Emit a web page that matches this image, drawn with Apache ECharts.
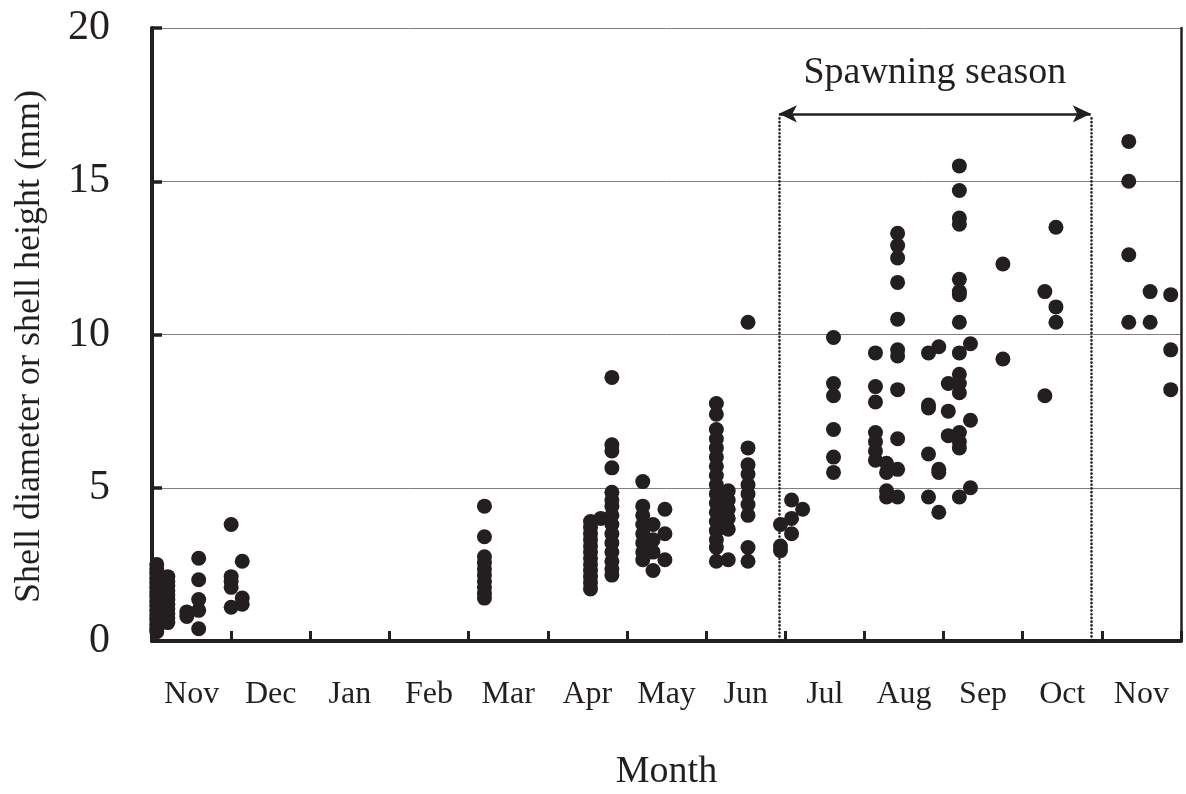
<!DOCTYPE html>
<html>
<head>
<meta charset="utf-8">
<script src="https://cdn.jsdelivr.net/npm/echarts@6/dist/echarts.min.js"></script>
<style>
html,body{margin:0;padding:0;background:#fff;}
#c{width:1186px;height:794px;}
</style>
</head>
<body>
<div id="c"></div>
<script>
// Month labels (each month is one unit on the x scale, starting at Nov = 0..1)
const months = ['Nov','Dec','Jan','Feb','Mar','Apr','May','Jun','Jul','Aug','Sep','Oct','Nov'];
const yTicks = [0, 5, 10, 15, 20];

// Sampling columns: x position (month units) and measured sizes (mm)
const xNov1 = [0.06, 0.2, 0.44, 0.59];
const yNov1 = [
  [2.5, 2.35, 2.2, 2.05, 1.9, 1.75, 1.6, 1.45, 1.3, 1.15, 1.0, 0.85, 0.7, 0.55, 0.4, 0.3],
  [2.1, 1.95, 1.8, 1.65, 1.5, 1.35, 1.2, 1.05, 0.9, 0.75, 0.6],
  [0.95, 0.8],
  [2.7, 2.0, 1.35, 1.0, 0.4]
];
const xDec = [1.0, 1.14];
const yDec = [
  [3.8, 2.1, 1.95, 1.75, 1.1],
  [2.6, 1.4, 1.2]
];
const xMar = [4.2];
const yMar = [
  [4.4, 3.4, 2.75, 2.55, 2.35, 2.15, 1.95, 1.75, 1.55, 1.4]
];
const xApr = [5.54, 5.67, 5.81];
const yApr = [
  [3.9, 3.7, 3.5, 3.3, 3.1, 2.9, 2.7, 2.5, 2.3, 2.1, 1.9, 1.7],
  [4.0],
  [8.6, 6.4, 6.2, 5.65, 4.85, 4.6, 4.4, 4.1, 3.8, 3.5, 3.2, 2.9, 2.6, 2.35, 2.15]
];
const xMay = [6.2, 6.33, 6.48];
const yMay = [
  [5.2, 4.4, 4.1, 3.8, 3.5, 3.2, 2.9, 2.65],
  [3.8, 3.3, 2.9, 2.3],
  [4.3, 3.5, 2.65]
];
const xJun = [7.13, 7.28, 7.53];
const yJun = [
  [7.75, 7.4, 6.9, 6.6, 6.3, 6.0, 5.7, 5.4, 5.1, 4.8, 4.5, 4.2, 3.9, 3.6, 3.3, 3.05, 2.6],
  [4.9, 4.6, 4.3, 4.0, 3.65, 2.65],
  [10.4, 6.3, 5.75, 5.45, 5.1, 4.8, 4.45, 4.1, 3.05, 2.6]
];
const xJul = [7.94, 8.08, 8.22, 8.61];
const yJul = [
  [3.8, 3.1, 2.95],
  [4.6, 4.0, 3.5],
  [4.3],
  [9.9, 8.4, 8.0, 6.9, 6.0, 5.5]
];
const xAug = [9.14, 9.28, 9.42, 9.81, 9.94];
const yAug = [
  [9.4, 8.3, 7.8, 6.8, 6.5, 6.2, 5.9],
  [5.8, 5.5, 4.9, 4.7],
  [13.3, 12.9, 12.5, 11.7, 10.5, 9.5, 9.3, 8.2, 6.6, 5.6, 4.7],
  [9.4, 7.7, 7.6, 6.1, 4.7],
  [9.6, 5.6, 5.5, 4.2]
];
const xSep = [10.06, 10.2, 10.34, 10.75];
const ySep = [
  [8.4, 7.5, 6.7],
  [15.5, 14.7, 13.8, 13.6, 11.8, 11.4, 11.3, 10.4, 9.4, 8.7, 8.4, 8.1, 6.8, 6.5, 6.3, 4.7],
  [9.7, 7.2, 5.0],
  [12.3, 9.2]
];
const xOct = [11.28, 11.42];
const yOct = [
  [11.4, 8.0],
  [13.5, 10.9, 10.4]
];
const xNov2 = [12.34, 12.61, 12.87];
const yNov2 = [
  [16.3, 15.0, 12.6, 10.4],
  [11.4, 10.4],
  [11.3, 9.5, 8.2]
];

// Spawning season annotation (month units / mm)
const spawnStart = 7.92;
const spawnEnd = 11.86;
const spawnArrowY = 17.2;
const spawnLabel = 'Spawning season';

const groupsX = [xNov1, xDec, xMar, xApr, xMay, xJun, xJul, xAug, xSep, xOct, xNov2];
const groupsY = [yNov1, yDec, yMar, yApr, yMay, yJun, yJul, yAug, ySep, yOct, yNov2];
const points = [];
groupsX.forEach((xs, g) => {
  xs.forEach((x, i) => {
    groupsY[g][i].forEach(v => points.push([x, v]));
  });
});

const ink = '#231f20';
const font = "'Liberation Serif', 'Times New Roman', serif";

const chart = echarts.init(document.getElementById('c'), null, {renderer: 'canvas'});
chart.setOption({
  animation: false,
  backgroundColor: '#fff',
  textStyle: {fontFamily: font, color: ink},
  grid: {left: 152, right: 5, top: 28, bottom: 153, containLabel: false, outerBoundsMode: 'none'},
  xAxis: [
    {
      type: 'value', min: 0, max: months.length, interval: 1,
      position: 'bottom',
      axisLine: {show: true, onZero: false, lineStyle: {color: ink, width: 4}},
      axisTick: {show: true, inside: true, length: 10, lineStyle: {color: ink, width: 3}},
      axisLabel: {show: false},
      splitLine: {show: false},
      name: 'Month', nameLocation: 'middle', nameGap: 112,
      nameTextStyle: {fontFamily: font, fontSize: 38, color: ink}
    },
    {
      type: 'category', data: months, position: 'bottom', boundaryGap: true,
      axisLine: {show: false}, axisTick: {show: false}, splitLine: {show: false},
      axisLabel: {show: true, interval: 0, margin: 38, fontFamily: font, fontSize: 32, color: ink}
    }
  ],
  yAxis: [
    {
      type: 'value', min: yTicks[0], max: yTicks[yTicks.length - 1], interval: 5,
      axisLine: {show: true, onZero: false, lineStyle: {color: ink, width: 4}},
      axisTick: {show: true, inside: true, length: 10, lineStyle: {color: ink, width: 3.5}},
      axisLabel: {show: true, margin: 42, fontFamily: font, fontSize: 42, color: ink},
      splitLine: {show: true, lineStyle: {color: '#808080', width: 1}},
      name: 'Shell diameter or shell height (mm)', nameLocation: 'middle', nameGap: 104,
      nameRotate: 90,
      nameTextStyle: {fontFamily: font, fontSize: 36, color: ink, padding: [0, 24, 0, 0]}
    },
    {
      type: 'value', min: yTicks[0], max: yTicks[yTicks.length - 1], position: 'right',
      axisLine: {show: true, onZero: false, lineStyle: {color: ink, width: 2.5}},
      axisTick: {show: false}, axisLabel: {show: false}, splitLine: {show: false}
    }
  ],
  series: [
    {
      type: 'scatter', xAxisIndex: 0, yAxisIndex: 0, data: [], z: 1,
      markLine: {
        silent: true, animation: false, symbol: ['none', 'none'],
        lineStyle: {color: ink, width: 2.6, type: [0.1, 3.6], cap: 'round'},
        label: {show: false},
        data: [
          [{coord: [spawnStart, spawnArrowY - 0.15]}, {coord: [spawnStart, 0]}],
          [{coord: [spawnEnd, spawnArrowY - 0.15]}, {coord: [spawnEnd, 0]}]
        ]
      }
    },
    {
      type: 'scatter', xAxisIndex: 0, yAxisIndex: 0, data: [], z: 2,
      markLine: {
        silent: true, animation: false, symbol: ['arrow', 'arrow'], symbolSize: [13, 18],
        lineStyle: {color: ink, width: 2.5, type: 'solid'},
        label: {show: true, position: 'middle', formatter: spawnLabel, distance: 22,
                fontFamily: font, fontSize: 38, color: ink},
        data: [
          [{coord: [spawnStart, spawnArrowY]}, {coord: [spawnEnd, spawnArrowY]}]
        ]
      }
    },
    {
      type: 'scatter', xAxisIndex: 0, yAxisIndex: 0, z: 3,
      symbol: 'circle', symbolSize: 15,
      itemStyle: {color: ink, opacity: 1},
      data: points
    }
  ]
});
</script>
</body>
</html>
